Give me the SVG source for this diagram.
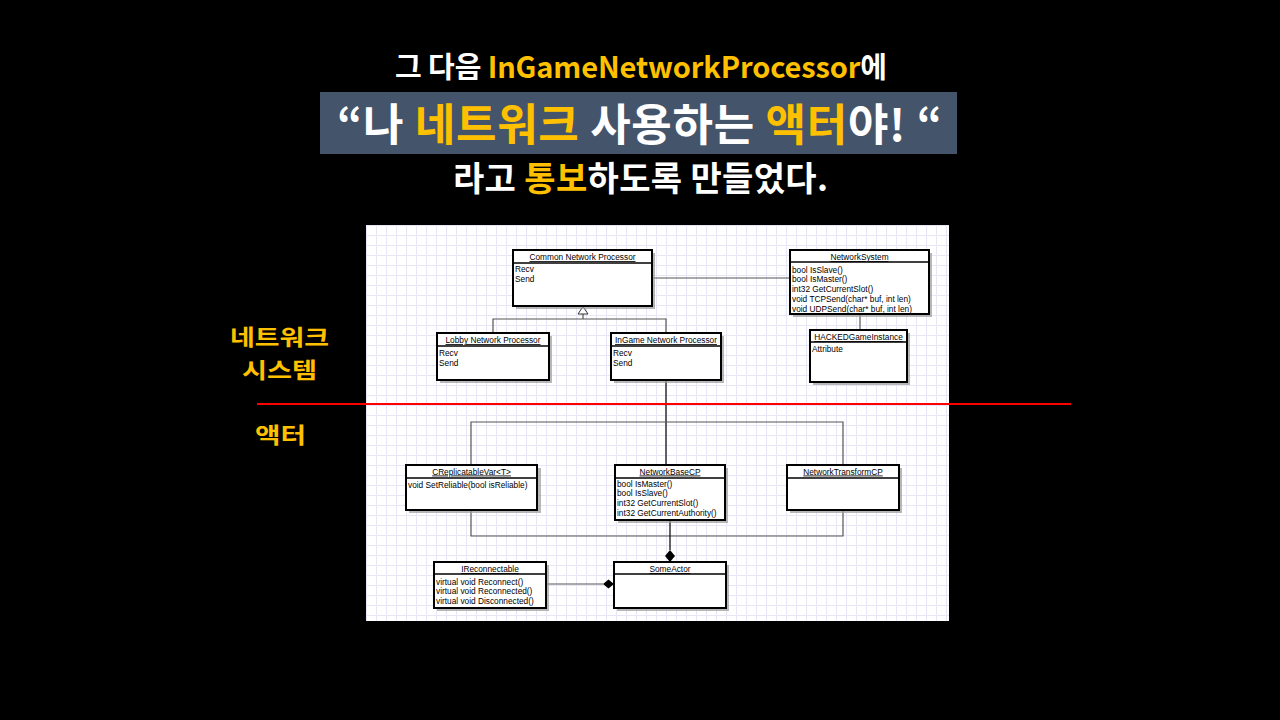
<svg xmlns="http://www.w3.org/2000/svg" width="1280" height="720" viewBox="0 0 1280 720">
<defs>
<pattern id="grid" width="10" height="10" patternUnits="userSpaceOnUse" x="366" y="225">
<path d="M10 0.5 H0.5 V10" fill="none" stroke="#E6E6F6" stroke-width="1"/>
</pattern>
<style>
.ttl{font-family:"Noto Sans CJK KR","Noto Sans",sans-serif;font-weight:bold;fill:#FFFFFF}
.gold{fill:#FFC000}
.side{font-family:"Noto Sans CJK KR","Noto Sans",sans-serif;font-weight:bold;fill:#FFC000;font-size:22px}
.box{fill:#FFFFFF;stroke:#000000;stroke-width:2}
.shd{fill:#9A9A9A;opacity:0.7}
.hdr{stroke:#000000;stroke-width:1.5}
.name{font-family:"Liberation Sans",Arial,sans-serif;font-size:8.3px;fill:#000;text-anchor:middle;text-decoration:underline}
.mem{font-family:"Liberation Sans",Arial,sans-serif;font-size:8.3px;fill:#000}
.ln{fill:none;stroke:#555555;stroke-width:1.2}
.dk{fill:none;stroke:#111111;stroke-width:1.3}
</style>
</defs>
<rect x="0" y="0" width="1280" height="720" fill="#000000"/>

<g id="title">
<text class="ttl" x="395" y="78" font-size="29" textLength="492" lengthAdjust="spacing">그 다음 <tspan class="gold">InGameNetworkProcessor</tspan>에</text>
<rect x="320" y="92" width="637" height="62" fill="#44546A"/>
<text class="ttl" x="337" y="141" font-size="44" textLength="605" lengthAdjust="spacing">“나 <tspan class="gold">네트워크</tspan> 사용하는 <tspan class="gold">액터</tspan>야! “</text>
<text class="ttl" x="453" y="191" font-size="34" textLength="375" lengthAdjust="spacing">라고 <tspan class="gold">통보</tspan>하도록 만들었다.</text>
</g>

<g id="panel">
<rect x="366" y="225" width="583" height="396" fill="#FFFFFF"/>
<rect x="366" y="225" width="583" height="396" fill="url(#grid)"/>
</g>

<g id="connectors">
<line class="ln" x1="652" y1="278" x2="790" y2="278"/>
<line class="ln" x1="860" y1="314" x2="860" y2="330"/>
<polyline class="ln" points="583,314 583,319"/>
<polyline class="ln" points="493,333 493,319 666,319 666,333"/>
<polygon points="583,306.5 588,314 578,314" fill="#FFFFFF" stroke="#333" stroke-width="1"/>
<line class="dk" x1="666" y1="380" x2="666" y2="465"/>
<polyline class="ln" points="471,465 471,422 843,422 843,465"/>
<polyline class="ln" points="471,510 471,536 843,536 843,510"/>
<line class="dk" x1="670" y1="520" x2="670" y2="550"/>
<polygon points="670,550 675,556 670,562 665,556" fill="#000"/>
<line class="ln" x1="546" y1="584" x2="603" y2="584"/>
<polygon points="603,584 608.5,579.5 614,584 608.5,588.5" fill="#000"/>
</g>

<g id="common-network-processor">
<rect class="shd" x="516" y="253" width="139" height="56"/>
<rect class="box" x="513" y="250" width="139" height="56"/>
<line class="hdr" x1="513" y1="263" x2="652" y2="263"/>
<text class="name" x="582.5" y="260">Common Network Processor</text>
<text class="mem" x="515" y="272">Recv</text>
<text class="mem" x="515" y="282">Send</text>
</g>

<g id="network-system">
<rect class="shd" x="793" y="253" width="139" height="64"/>
<rect class="box" x="790" y="250" width="139" height="64"/>
<line class="hdr" x1="790" y1="262" x2="929" y2="262"/>
<text class="name" x="859.5" y="260">NetworkSystem</text>
<text class="mem" x="792" y="272.5">bool IsSlave()</text>
<text class="mem" x="792" y="282.3">bool IsMaster()</text>
<text class="mem" x="792" y="292.1">int32 GetCurrentSlot()</text>
<text class="mem" x="792" y="301.9">void TCPSend(char* buf, int len)</text>
<text class="mem" x="792" y="311.7">void UDPSend(char* buf, int len)</text>
</g>

<g id="lobby-network-processor">
<rect class="shd" x="440" y="336" width="112" height="47"/>
<rect class="box" x="437" y="333" width="112" height="47"/>
<line class="hdr" x1="437" y1="346" x2="549" y2="346"/>
<text class="name" x="493" y="343">Lobby Network Processor</text>
<text class="mem" x="439" y="356">Recv</text>
<text class="mem" x="439" y="365.5">Send</text>
</g>

<g id="ingame-network-processor">
<rect class="shd" x="614" y="336" width="110" height="47"/>
<rect class="box" x="611" y="333" width="110" height="47"/>
<line class="hdr" x1="611" y1="346" x2="721" y2="346"/>
<text class="name" x="666" y="343">InGame Network Processor</text>
<text class="mem" x="613" y="356">Recv</text>
<text class="mem" x="613" y="365.5">Send</text>
</g>

<g id="hacked-game-instance">
<rect class="shd" x="813" y="333" width="97" height="52"/>
<rect class="box" x="810" y="330" width="97" height="52"/>
<line class="hdr" x1="810" y1="342" x2="907" y2="342"/>
<text class="name" x="858.5" y="340">HACKEDGameInstance</text>
<text class="mem" x="812" y="351.5">Attribute</text>
</g>

<g id="creplicatablevar">
<rect class="shd" x="409" y="468" width="132" height="45"/>
<rect class="box" x="406" y="465" width="131" height="45"/>
<line class="hdr" x1="406" y1="478" x2="537" y2="478"/>
<text class="name" x="471.5" y="474.5">CReplicatableVar&lt;T&gt;</text>
<text class="mem" x="408" y="487.5">void SetReliable(bool isReliable)</text>
</g>

<g id="network-base-cp">
<rect class="shd" x="618" y="468" width="110" height="55"/>
<rect class="box" x="615" y="465" width="110" height="55"/>
<line class="hdr" x1="615" y1="478" x2="725" y2="478"/>
<text class="name" x="670" y="474.5">NetworkBaseCP</text>
<text class="mem" x="617" y="486.5">bool IsMaster()</text>
<text class="mem" x="617" y="496.3">bool IsSlave()</text>
<text class="mem" x="617" y="506.1">int32 GetCurrentSlot()</text>
<text class="mem" x="617" y="515.9">int32 GetCurrentAuthority()</text>
</g>

<g id="network-transform-cp">
<rect class="shd" x="790" y="468" width="112" height="45"/>
<rect class="box" x="787" y="465" width="112" height="45"/>
<line class="hdr" x1="787" y1="478" x2="899" y2="478"/>
<text class="name" x="843" y="474.5">NetworkTransformCP</text>
</g>

<g id="ireconnectable">
<rect class="shd" x="437" y="565" width="112" height="46"/>
<rect class="box" x="434" y="562" width="112" height="46"/>
<line class="hdr" x1="434" y1="574" x2="546" y2="574"/>
<text class="name" x="490" y="572">IReconnectable</text>
<text class="mem" x="436" y="584.5">virtual void Reconnect()</text>
<text class="mem" x="436" y="594.2">virtual void Reconnected()</text>
<text class="mem" x="436" y="603.9">virtual void Disconnected()</text>
</g>

<g id="some-actor">
<rect class="shd" x="617" y="565" width="112" height="46"/>
<rect class="box" x="614" y="562" width="112" height="46"/>
<line class="hdr" x1="614" y1="574" x2="726" y2="574"/>
<text class="name" x="670" y="572">SomeActor</text>
</g>

<g id="divider">
<line x1="257" y1="404" x2="1071" y2="404" stroke="#FF0000" stroke-width="2"/>
<text class="side" x="230" y="345" textLength="99" lengthAdjust="spacingAndGlyphs">네트워크</text>
<text class="side" x="242" y="378" textLength="75" lengthAdjust="spacingAndGlyphs">시스템</text>
<text class="side" x="255" y="443" font-size="23" textLength="51" lengthAdjust="spacingAndGlyphs">액터</text>
</g>
</svg>
